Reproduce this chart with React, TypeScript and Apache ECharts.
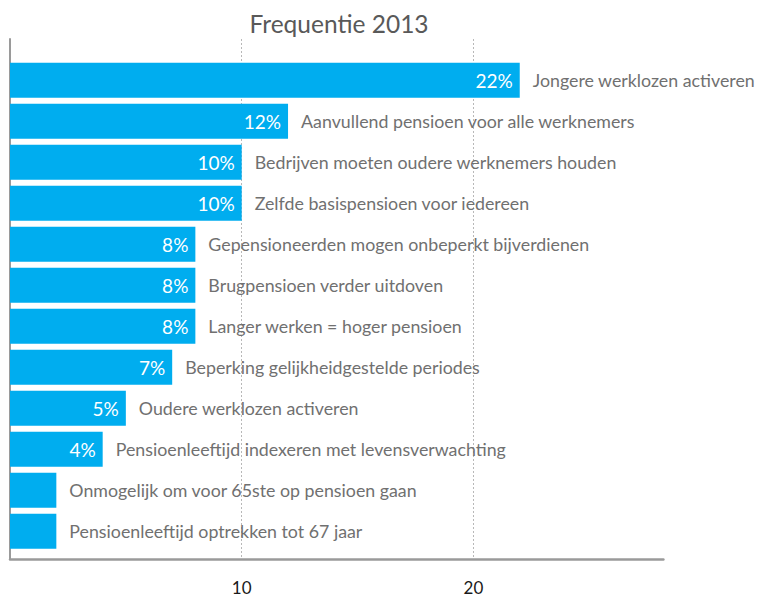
import React, { useEffect, useRef } from "react";
import * as echarts from "echarts";

const categories = [
  "Jongere werklozen activeren",
  "Aanvullend pensioen voor alle werknemers",
  "Bedrijven moeten oudere werknemers houden",
  "Zelfde basispensioen voor iedereen",
  "Gepensioneerden mogen onbeperkt bijverdienen",
  "Brugpensioen verder uitdoven",
  "Langer werken = hoger pensioen",
  "Beperking gelijkheidgestelde periodes",
  "Oudere werklozen activeren",
  "Pensioenleeftijd indexeren met levensverwachting",
  "Onmogelijk om voor 65ste op pensioen gaan",
  "Pensioenleeftijd optrekken tot 67 jaar",
];
const values = [22, 12, 10, 10, 8, 8, 8, 7, 5, 4, 2, 2];
const showPct = [true, true, true, true, true, true, true, true, true, true, false, false];
const tickLabels = ["10", "20"];

const FONT = "Lato, 'Open Sans', sans-serif";
const BLUE = "#00ADEF";
const XMAX = 28.2;

export default function App() {
  const ref = useRef<HTMLDivElement>(null);
  useEffect(() => {
    if (!ref.current) return;
    const chart = echarts.init(ref.current, null, { renderer: "svg" });
    const gridW = XMAX * 23.17;
    chart.setOption({
      animation: false,
      backgroundColor: "#ffffff",
      title: {
        text: "Frequentie 2013",
        left: 334,
        top: 6,
        textAlign: "center",
        textStyle: { fontFamily: FONT, fontSize: 24.5, fontWeight: "normal", color: "#595959" },
      },
      grid: [
        { left: 10, top: 39, width: gridW, height: 520, containLabel: false },
        { left: 10, top: 59.7, width: gridW, height: 492, containLabel: false },
      ],
      xAxis: [
        {
          gridIndex: 0,
          type: "value",
          min: 0,
          max: XMAX,
          interval: 10,
          axisLine: { show: true, lineStyle: { color: "#9a9a9a", width: 2.5 } },
          axisTick: { show: false },
          splitLine: {
            show: true,
            showMinLine: false,
            showMaxLine: false,
            lineStyle: { color: "#b8b8b8", type: [2, 2], width: 1 },
          },
          axisLabel: {
            margin: 20,
            fontFamily: FONT,
            fontSize: 17,
            color: "#1a1a1a",
            formatter: (v: number) => (tickLabels.includes(String(v)) ? String(v) : ""),
          },
        },
        {
          gridIndex: 1,
          type: "value",
          min: 0,
          max: XMAX,
          show: false,
        },
      ],
      yAxis: [
        {
          gridIndex: 0,
          type: "value",
          min: 0,
          max: 1,
          axisLine: { show: true, lineStyle: { color: "#9a9a9a", width: 2 } },
          axisTick: { show: false },
          axisLabel: { show: false },
          splitLine: { show: false },
        },
        {
          gridIndex: 1,
          type: "category",
          data: categories,
          inverse: true,
          show: false,
        },
      ],
      series: [
        {
          type: "bar",
          xAxisIndex: 1,
          yAxisIndex: 1,
          barWidth: 35,
          barGap: "-100%",
          itemStyle: { color: BLUE },
          data: values.map((v, i) => ({
            value: v,
            label: { show: showPct[i] },
          })),
          label: {
            show: true,
            position: "insideRight",
            distance: 7,
            formatter: (p: any) => `${p.value}%`,
            fontFamily: FONT,
            fontSize: 19,
            color: "#ffffff",
          },
          silent: true,
        },
        {
          type: "bar",
          xAxisIndex: 1,
          yAxisIndex: 1,
          barWidth: 35,
          barGap: "-100%",
          itemStyle: { color: "rgba(0,0,0,0)" },
          data: values,
          label: {
            show: true,
            position: "right",
            distance: 13,
            formatter: (p: any) => categories[p.dataIndex],
            fontFamily: FONT,
            fontSize: 17.8,
            color: "#707070",
          },
          silent: true,
        },
      ],
    });
    return () => chart.dispose();
  }, []);
  return <div ref={ref} style={{ width: 758, height: 598, position: "absolute", left: 0, top: 0 }} />;
}
